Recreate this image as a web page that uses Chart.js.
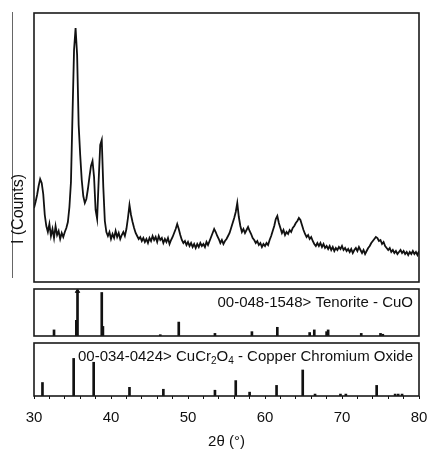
<!DOCTYPE html>
<html lang="en">
<head>
<meta charset="utf-8" />
<title>XRD - CuO / CuCr2O4</title>
<style>
    html, body { margin: 0; padding: 0; background: #fff; overflow: hidden; width: 427px; height: 449px; }
    .panel { position: absolute; left: 0; }
    #edgeLine { position: absolute; left: 12px; top: 12px; width: 0; height: 266px; border-left: 1px solid #666; }
</style>
</head>
<body>
<div id="edgeLine"></div>
<div class="panel" style="top:0;width:427px;height:284px"><canvas id="patternChart" width="427" height="284"></canvas></div>
<div class="panel" style="top:284px;width:427px;height:57px"><canvas id="tenoriteChart" width="427" height="57"></canvas></div>
<div class="panel" style="top:341px;width:450px;height:108px"><canvas id="spinelChart" width="450" height="108"></canvas></div>

<script src="https://cdn.jsdelivr.net/npm/chart.js"></script>
<script>
    // measured pattern: 2theta from 30 to 80 in 0.2 deg steps
    const startAngle = 30;
    const stepAngle = 0.2;
    const counts = [
        74, 80, 87, 96, 103, 99, 88, 67, 56, 50,
        58, 46, 53, 44, 56, 47, 51, 43, 49, 45,
        50, 54, 60, 75, 100, 167, 232, 254, 227, 157,
        127, 102, 86, 79, 83, 93, 105, 116, 121, 105,
        72, 63, 102, 137, 142, 95, 61, 50, 46, 50,
        43, 48, 44, 51, 45, 49, 43, 47, 50, 46,
        53, 64, 77, 67, 60, 54, 49, 46, 43, 45,
        41, 44, 40, 43, 39, 44, 41, 46, 42, 45,
        40, 46, 42, 44, 39, 43, 40, 44, 38, 42,
        45, 49, 53, 58, 53, 47, 42, 39, 41, 37,
        40, 36, 39, 35, 38, 34, 38, 35, 39, 36,
        38, 35, 40, 37, 41, 45, 49, 53, 50, 46,
        43, 39, 42, 38, 41, 43, 46, 49, 54, 59,
        64, 70, 79, 65, 56, 50, 53, 49, 52, 55,
        51, 48, 44, 42, 39, 41, 37, 39, 35, 38,
        36, 39, 37, 42, 46, 51, 56, 63, 66, 59,
        54, 49, 52, 47, 50, 48, 52, 50, 54, 56,
        59, 61, 64, 62, 57, 52, 48, 45, 47, 43,
        45, 41, 38, 36, 39, 36, 39, 35, 38, 34,
        36, 33, 36, 32, 35, 31, 34, 32, 35, 33,
        36, 32, 34, 31, 33, 30, 33, 29, 32, 34,
        31, 35, 32, 29, 32, 28, 31, 34, 36, 39,
        41, 43, 45, 44, 41, 42, 38, 40, 36, 34,
        32, 34, 30, 32, 29, 31, 28, 30, 32, 29,
        31, 28, 30, 27, 30, 28, 31, 28, 30, 27,
        31
    ];

    // reference card 00-048-1548 Tenorite (CuO)
    const cuoAngles  = [32.6, 35.5, 35.65, 38.8, 38.95, 46.4, 48.8, 53.5, 58.3, 61.6, 65.8, 66.4, 68.0, 68.2, 72.5, 75.0, 75.3];
    const cuoHeights = [7, 18, 50, 50, 11, 1.5, 16, 3, 5, 10, 4, 7, 5, 7, 3, 3, 2];
    const cuoClipped = [35.65];

    // reference card 00-034-0424 CuCr2O4
    const spinelAngles  = [31.1, 35.15, 37.75, 42.4, 46.8, 53.5, 56.2, 58.0, 61.5, 64.9, 66.5, 69.8, 70.5, 74.5, 76.9, 77.3, 77.8];
    const spinelHeights = [14, 39, 35, 9, 7, 6, 16, 4, 11, 27, 2, 2, 2, 11, 2, 2, 2];

    const tickLabels = [30, 40, 50, 60, 70, 80];

    Chart.defaults.font.family = '"Liberation Sans", Arial, sans-serif';
    Chart.defaults.color = '#111';
    Chart.defaults.animation = false;

    // box round each panel, a card caption, and the y title
    const framePlugin = {
        id: 'frame',
        afterDatasetsDraw(chart, args, opts) {
            const a = chart.chartArea;
            const ctx = chart.ctx;
            ctx.save();
            ctx.strokeStyle = '#1a1a1a';
            ctx.lineWidth = 1.6;
            ctx.strokeRect(a.left, a.top, a.right - a.left, a.bottom - a.top);
            ctx.fillStyle = '#111';
            if (opts.caption) {
                const big = '15px "Liberation Sans", Arial, sans-serif';
                const small = '10px "Liberation Sans", Arial, sans-serif';
                let total = 0;
                opts.caption.forEach(p => {
                    ctx.font = p.sub ? small : big;
                    total += ctx.measureText(p.text).width;
                });
                let x = a.right - 6 - total;
                const base = a.top + 18;
                ctx.textBaseline = 'alphabetic';
                ctx.textAlign = 'left';
                opts.caption.forEach(p => {
                    ctx.font = p.sub ? small : big;
                    ctx.fillText(p.text, x, p.sub ? base + 3 : base);
                    x += ctx.measureText(p.text).width;
                });
            }
            if (opts.yTitle) {
                ctx.translate(19, 209);
                ctx.rotate(-Math.PI / 2);
                ctx.font = '16px "Liberation Sans", Arial, sans-serif';
                ctx.textAlign = 'center';
                ctx.textBaseline = 'middle';
                ctx.fillText(opts.yTitle, 0, 0);
            }
            ctx.restore();
        }
    };

    // measured pattern
    new Chart(document.getElementById('patternChart'), {
        type: 'line',
        data: {
            datasets: [{
                data: counts.map((c, i) => ({ x: startAngle + i * stepAngle, y: c })),
                borderColor: '#111',
                borderWidth: 1.8,
                pointRadius: 0,
                tension: 0
            }]
        },
        options: {
            responsive: false,
            layout: { padding: { left: 34, right: 8, top: 13, bottom: 2 } },
            plugins: { legend: { display: false }, tooltip: { enabled: false }, frame: { yTitle: 'I (Counts)' } },
            scales: {
                x: { type: 'linear', min: 30, max: 80, offset: false, display: false },
                y: { min: 0, max: 269, display: false }
            }
        },
        plugins: [framePlugin]
    });

    // tenorite sticks
    new Chart(document.getElementById('tenoriteChart'), {
        type: 'bar',
        data: {
            datasets: [{
                data: cuoAngles.map((a, i) => ({ x: a, y: cuoHeights[i] })),
                backgroundColor: '#111',
                barThickness: 2
            }, {
                type: 'scatter',
                data: cuoClipped.map(a => ({ x: a, y: 51.5 })),
                pointStyle: 'triangle',
                pointRadius: 2.5,
                backgroundColor: '#111',
                borderColor: '#111'
            }]
        },
        options: {
            responsive: false,
            layout: { padding: { left: 34, right: 8, top: 1, bottom: 2 } },
            plugins: {
                legend: { display: false }, tooltip: { enabled: false },
                frame: { caption: [{ text: '00-048-1548> Tenorite - CuO' }] }
            },
            scales: {
                x: { type: 'linear', min: 30, max: 80, offset: false, display: false },
                y: { min: 0, max: 54, display: false }
            }
        },
        plugins: [framePlugin]
    });

    // copper chromium oxide sticks, with the shared 2theta axis
    new Chart(document.getElementById('spinelChart'), {
        type: 'bar',
        data: {
            datasets: [{
                data: spinelAngles.map((a, i) => ({ x: a, y: spinelHeights[i] })),
                backgroundColor: '#111',
                barThickness: 2
            }]
        },
        options: {
            responsive: false,
            layout: { padding: { left: 34, right: 31, top: 2, bottom: 0 } },
            plugins: {
                legend: { display: false }, tooltip: { enabled: false },
                frame: { caption: [
                    { text: '00-034-0424> CuCr' }, { text: '2', sub: true },
                    { text: 'O' }, { text: '4', sub: true },
                    { text: ' - Copper Chromium Oxide' }
                ] }
            },
            scales: {
                x: {
                    type: 'linear', min: 30, max: 80, offset: false,
                    ticks: {
                        stepSize: 2, autoSkip: false, maxRotation: 0, padding: 10,
                        font: { size: 15 }, color: '#111',
                        callback: v => tickLabels.includes(v) ? String(v) : ''
                    },
                    grid: { offset: false, drawOnChartArea: false, drawTicks: true, tickLength: 3, color: '#111', lineWidth: 1 },
                    border: { display: false },
                    title: { display: true, text: '2θ (°)', color: '#111', font: { size: 15, lineHeight: 1 }, padding: { top: 5, bottom: 0 } }
                },
                y: { min: 0, max: 55, display: false }
            }
        },
        plugins: [framePlugin]
    });
</script>
</body>
</html>
